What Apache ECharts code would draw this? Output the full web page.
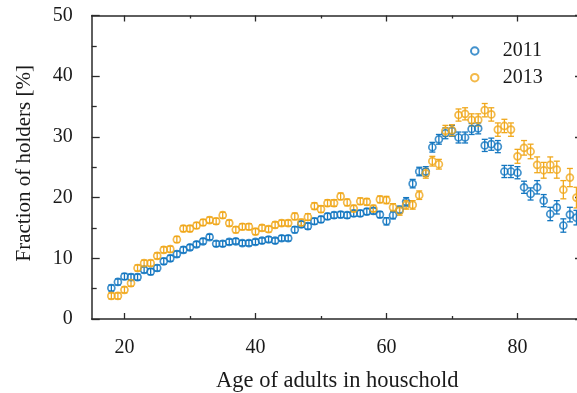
<!DOCTYPE html>
<html>
<head>
<meta charset="utf-8">
<script src="https://cdn.jsdelivr.net/npm/echarts@6/dist/echarts.min.js"></script>
<style>
html,body{margin:0;padding:0;background:#fff;}
#c{width:577px;height:393px;}
</style>
</head>
<body>
<div id="c"></div>
<script>
const ages = [18,19,20,21,22,23,24,25,26,27,28,29,30,31,32,33,34,35,36,37,38,39,40,41,42,43,44,45,46,47,48,49,50,51,52,53,54,55,56,57,58,59,60,61,62,63,64,65,66,67,68,69,70,71,72,73,74,75,76,77,78,79,80,81,82,83,84,85,86,87,88,89];
const holders2011 = [5.1,6.1,7.0,6.9,6.9,8.1,7.8,8.4,9.5,10.0,10.7,11.4,11.8,12.3,12.8,13.5,12.4,12.4,12.7,12.8,12.5,12.5,12.7,12.9,13.1,12.9,13.3,13.3,14.7,15.6,15.3,16.1,16.4,16.9,17.1,17.2,17.1,17.4,17.4,17.7,17.8,17.2,16.1,17.1,18.0,19.3,22.3,24.3,24.3,28.3,29.6,30.6,31.0,29.9,29.9,31.3,31.4,28.6,28.8,28.4,24.3,24.3,24.1,21.7,20.6,21.7,19.5,17.3,18.4,15.4,17.2,16.7];
const err2011 = [0.5,0.5,0.5,0.5,0.5,0.5,0.5,0.5,0.5,0.5,0.5,0.5,0.45,0.45,0.45,0.45,0.45,0.45,0.45,0.45,0.45,0.45,0.45,0.45,0.45,0.45,0.45,0.45,0.5,0.5,0.5,0.5,0.5,0.5,0.5,0.5,0.5,0.5,0.5,0.5,0.5,0.5,0.6,0.6,0.6,0.7,0.7,0.7,0.8,0.8,0.8,0.9,0.9,0.9,0.9,0.9,0.9,1.0,1.0,1.0,1.0,1.0,1.0,1.0,1.0,1.1,1.0,1.1,1.1,1.1,1.2,1.2];
const holders2013 = [3.8,3.8,4.8,5.9,8.4,9.2,9.2,10.4,11.4,11.5,13.1,14.9,14.9,15.4,15.9,16.3,16.1,17.1,15.8,14.7,15.2,15.2,14.4,15.0,14.8,15.5,15.8,15.8,16.9,15.9,16.8,18.6,18.1,19.1,19.1,20.2,19.2,18.2,19.4,19.3,18.2,19.7,19.6,18.4,17.8,18.8,18.8,20.4,24.0,26.0,25.5,31.0,31.1,33.6,33.8,32.8,32.8,34.4,33.7,31.2,31.8,31.2,26.8,28.2,27.6,25.4,24.5,25.4,24.6,21.3,23.3,20.0];
const err2013 = [0.5,0.5,0.5,0.5,0.5,0.5,0.5,0.5,0.5,0.5,0.5,0.5,0.5,0.5,0.5,0.5,0.5,0.5,0.5,0.5,0.5,0.5,0.5,0.5,0.5,0.5,0.5,0.5,0.55,0.55,0.55,0.55,0.55,0.55,0.55,0.55,0.55,0.55,0.55,0.55,0.55,0.55,0.6,0.6,0.7,0.7,0.7,0.7,0.8,0.8,0.8,0.9,0.9,1.0,1.0,1.0,1.0,1.1,1.1,1.1,1.1,1.1,1.15,1.2,1.2,1.3,1.3,1.3,1.4,1.5,1.5,1.7];
const xMajorTicks = [20,40,60,80];
const xMinorTicks = [30,50,70];
const seriesNames = ['2011','2013'];

const FONT = 'Liberation Serif';
const AX = '#2a2a2a';
const TXT = '#1a1a1a';
const C2011 = '#1477C0';
const C2013 = '#F0A81C';

function pts(vals, errs) {
  return ages.map((a, i) => [a, vals[i], errs[i]]);
}
function errSeries(name, vals, errs, color) {
  return {
    type: 'custom',
    name: name + ' err',
    data: pts(vals, errs),
    z: 3,
    silent: true,
    clip: false,
    renderItem: function (params, api) {
      const x = api.value(0), y = api.value(1), e = api.value(2);
      const lo = api.coord([x, y - e]);
      const hi = api.coord([x, y + e]);
      const cw = 3;
      const st = { stroke: color, lineWidth: 1.3 };
      return {
        type: 'group',
        children: [
          { type: 'line', shape: { x1: lo[0], y1: lo[1], x2: hi[0], y2: hi[1] }, style: st },
          { type: 'line', shape: { x1: lo[0] - cw, y1: lo[1], x2: lo[0] + cw, y2: lo[1] }, style: st },
          { type: 'line', shape: { x1: hi[0] - cw, y1: hi[1], x2: hi[0] + cw, y2: hi[1] }, style: st }
        ]
      };
    }
  };
}
function dotSeries(name, vals, color) {
  return {
    type: 'scatter',
    name: name,
    data: ages.map((a, i) => [a, vals[i]]),
    symbol: 'circle',
    symbolSize: 7,
    z: 4,
    itemStyle: { color: 'rgba(255,255,255,0)', borderColor: color, borderWidth: 1.7 }
  };
}
const lbl = { fontFamily: FONT, fontSize: 20, color: TXT };
function xAx(pos, major, showLine, showLabel) {
  return {
    type: 'value', min: 15, max: 90, position: pos,
    axisLine: { show: showLine, onZero: false, lineStyle: { color: AX, width: 1.5 } },
    axisTick: { show: true, inside: true, length: major ? 6 : 3, customValues: major ? xMajorTicks : xMinorTicks, lineStyle: { color: AX, width: 1.3 } },
    axisLabel: showLabel ? Object.assign({ customValues: xMajorTicks, margin: 19 }, lbl) : { show: false },
    splitLine: { show: false }
  };
}
function yAx(pos, showLabel) {
  return {
    type: 'value', min: 0, max: 50, interval: 10, position: pos,
    axisLine: { show: true, onZero: false, lineStyle: { color: AX, width: 1.5 } },
    axisTick: { show: true, inside: true, length: 8, lineStyle: { color: AX, width: 1.3 } },
    minorTick: { show: true, splitNumber: 2, length: 5, lineStyle: { color: AX, width: 1.3 } },
    axisLabel: showLabel ? Object.assign({ margin: 19 }, lbl) : { show: false },
    splitLine: { show: false }
  };
}
const xAxes = [xAx('bottom', true, true, true), xAx('bottom', false, false, false), xAx('top', true, true, false), xAx('top', false, false, false)];
xAxes[0].name = 'Age of adults in houschold';
xAxes[0].nameLocation = 'middle';
xAxes[0].nameGap = 51;
xAxes[0].nameTextStyle = { fontFamily: FONT, fontSize: 22.5, color: TXT };
const yAxes = [yAx('left', true), yAx('right', false)];
yAxes[0].name = 'Fraction of holders [%]';
yAxes[0].nameLocation = 'middle';
yAxes[0].nameGap = 57;
yAxes[0].nameRotate = 90;
yAxes[0].nameTextStyle = { fontFamily: FONT, fontSize: 21, color: TXT, padding: [0, 0, 0, 8] };

const chart = echarts.init(document.getElementById('c'), null, { renderer: 'canvas' });
chart.setOption({
  animation: false,
  backgroundColor: '#fff',
  grid: { left: 91.7, top: 15.5, width: 491.3, height: 303.5, containLabel: false, outerBoundsMode: 'none' },
  legend: {
    orient: 'vertical', left: 465, top: 36, itemWidth: 46, itemHeight: 7.5, itemGap: 6.7,
    data: seriesNames,
    textStyle: { fontFamily: FONT, fontSize: 20, color: TXT }
  },
  xAxis: xAxes,
  yAxis: yAxes,
  series: [
    errSeries('2011', holders2011, err2011, C2011),
    dotSeries('2011', holders2011, C2011),
    errSeries('2013', holders2013, err2013, C2013),
    dotSeries('2013', holders2013, C2013)
  ]
});
</script>
</body>
</html>
